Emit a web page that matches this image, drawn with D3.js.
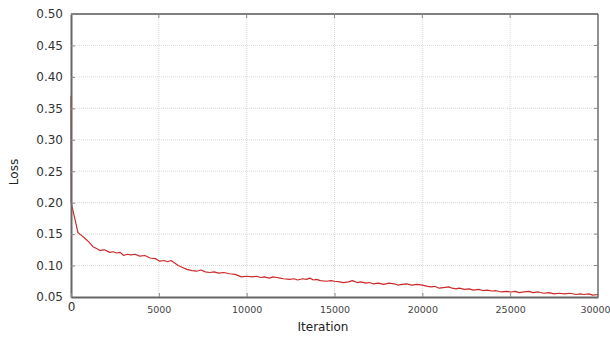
<!DOCTYPE html>
<html>
<head>
<meta charset="utf-8">
<script src="https://cdn.jsdelivr.net/npm/d3@7"></script>
<style>
  body { margin: 0; background: #fff; }
  svg { display: block; }
</style>
</head>
<body>
<svg id="chart" width="610" height="337"></svg>
<script>
// values
let iteration = [
    0, 10, 400, 600, 800, 1000, 1250, 1450, 1650, 1900,
    2200, 2400, 2600, 2800, 3000, 3200, 3400, 3650, 3900, 4200,
    4500, 4800, 5050, 5300, 5500, 5700, 5900, 6100, 6350, 6600,
    6900, 7150, 7400, 7650, 7900, 8150, 8400, 8700, 9030, 9350,
    9700, 10000, 10300, 10560, 10800, 11000, 11300, 11500, 11700, 11900,
    12100, 12440, 12700, 12900, 13180, 13400, 13600, 13800, 13970, 14200,
    14540, 14800, 15000, 15300, 15500, 15800, 16020, 16300, 16500, 16800,
    16980, 17200, 17500, 17800, 18100, 18400, 18600, 18860, 19100, 19400,
    19700, 20000, 20300, 20500, 20700, 20960, 21200, 21500, 21700, 21920,
    22100, 22400, 22660, 22900, 23200, 23500, 23700, 23970, 24200, 24500,
    24800, 25050, 25300, 25500, 25800, 26070, 26300, 26600, 26900, 27200,
    27500, 27800, 28100, 28400, 28740, 29000, 29200, 29480, 29700, 30000
];
let loss = [
    0.37, 0.200, 0.152, 0.148, 0.143, 0.138, 0.130, 0.127, 0.124, 0.125,
    0.121, 0.122, 0.120, 0.121, 0.116, 0.118, 0.117, 0.118, 0.115, 0.116,
    0.112, 0.111, 0.107, 0.108, 0.106, 0.108, 0.104, 0.100, 0.097, 0.094,
    0.092, 0.091, 0.093, 0.090, 0.089, 0.090, 0.088, 0.089, 0.087, 0.086,
    0.082, 0.083, 0.082, 0.083, 0.081, 0.082, 0.080, 0.082, 0.081, 0.080,
    0.079, 0.078, 0.079, 0.077, 0.079, 0.078, 0.080, 0.077, 0.078, 0.076,
    0.075, 0.076, 0.075, 0.074, 0.073, 0.074, 0.076, 0.073, 0.074, 0.072,
    0.073, 0.071, 0.072, 0.070, 0.072, 0.071, 0.069, 0.070, 0.071, 0.069,
    0.070, 0.069, 0.067, 0.066, 0.067, 0.064, 0.065, 0.066, 0.064, 0.063,
    0.064, 0.062, 0.063, 0.061, 0.062, 0.060, 0.061, 0.0595, 0.060, 0.058,
    0.059, 0.058, 0.059, 0.057, 0.058, 0.059, 0.057, 0.058, 0.056, 0.057,
    0.055, 0.056, 0.055, 0.056, 0.054, 0.055, 0.054, 0.055, 0.053, 0.054
];
let xTicks = [0, 5000, 10000, 15000, 20000, 25000, 30000];
let yTicks = [0.05, 0.10, 0.15, 0.20, 0.25, 0.30, 0.35, 0.40, 0.45, 0.50];

let plotLeft = 71, plotRight = 598, plotTop = 14, plotBottom = 297;

let svg = d3.select('svg#chart');
let x = d3.scaleLinear().domain([0, 30000]).range([plotLeft, plotRight]);
let y = d3.scaleLinear().domain([0.05, 0.5]).range([plotBottom, plotTop]);

// grid
svg.append('g').selectAll('line')
    .data(xTicks.slice(1, -1))
    .enter().append('line')
    .attr('x1', d => x(d)).attr('x2', d => x(d))
    .attr('y1', plotTop).attr('y2', plotBottom)
    .attr('stroke', '#dadada').attr('stroke-width', 1)
    .attr('stroke-dasharray', '1,1');
svg.append('g').selectAll('line')
    .data(yTicks.slice(1, -1))
    .enter().append('line')
    .attr('x1', plotLeft).attr('x2', plotRight)
    .attr('y1', d => y(d)).attr('y2', d => y(d))
    .attr('stroke', '#dadada').attr('stroke-width', 1)
    .attr('stroke-dasharray', '1,1');

// loss curve
let line = d3.line()
    .x((d, i) => x(iteration[i]))
    .y(d => y(d));
svg.append('path')
    .datum(loss)
    .attr('d', line)
    .attr('fill', 'none')
    .attr('stroke', '#cc2a2a')
    .attr('stroke-width', 1.2)
    .attr('stroke-linejoin', 'round');

// frame
svg.append('line').attr('x1', plotLeft).attr('x2', plotRight).attr('y1', plotTop).attr('y2', plotTop)
    .attr('stroke', '#555').attr('stroke-width', 1.3);
svg.append('line').attr('x1', plotRight).attr('x2', plotRight).attr('y1', plotTop).attr('y2', plotBottom)
    .attr('stroke', '#555').attr('stroke-width', 1.3);

// axes
let yAxis = d3.axisLeft(y).tickValues(yTicks).tickFormat(d3.format('.2f'))
    .tickSizeInner(-4).tickSizeOuter(0).tickPadding(8);
let gy = svg.append('g').attr('transform', `translate(${plotLeft},0)`).call(yAxis);
gy.select('.domain').attr('stroke', '#666').attr('stroke-width', 2);
gy.selectAll('.tick line').attr('stroke', '#888');
gy.selectAll('text').attr('font-family', 'DejaVu Sans').attr('font-size', 12).attr('fill', '#333');

let xAxis = d3.axisBottom(x).tickValues(xTicks).tickFormat(d3.format('d'))
    .tickSizeInner(-4).tickSizeOuter(0).tickPadding(9);
let gx = svg.append('g').attr('transform', `translate(0,${plotBottom})`).call(xAxis);
gx.select('.domain').attr('stroke', '#666').attr('stroke-width', 2);
gx.selectAll('.tick line').attr('stroke', '#888');
gx.selectAll('text').attr('font-family', 'DejaVu Sans').attr('font-size', 9.5).attr('fill', '#444');
gx.selectAll('text').filter(d => d === 0)
    .attr('font-size', 12).attr('dy', '0.45em').attr('fill', '#333');
gx.selectAll('text').filter(d => d === 30000).attr('dx', -3);

// top and right small ticks
svg.append('g').selectAll('line').data(xTicks.slice(1, -1)).enter().append('line')
    .attr('x1', d => x(d)).attr('x2', d => x(d)).attr('y1', plotTop).attr('y2', plotTop + 4)
    .attr('stroke', '#888');
svg.append('g').selectAll('line').data(yTicks.slice(1, -1)).enter().append('line')
    .attr('x1', plotRight - 4).attr('x2', plotRight).attr('y1', d => y(d)).attr('y2', d => y(d))
    .attr('stroke', '#888');

// labels
svg.append('text').text('Iteration')
    .attr('x', 323).attr('y', 331).attr('text-anchor', 'middle')
    .attr('font-family', 'DejaVu Sans').attr('font-size', 12).attr('fill', '#222');
svg.append('text').text('Loss')
    .attr('transform', 'translate(18,172) rotate(-90)').attr('text-anchor', 'middle')
    .attr('font-family', 'DejaVu Sans').attr('font-size', 12).attr('fill', '#222');
</script>
</body>
</html>
